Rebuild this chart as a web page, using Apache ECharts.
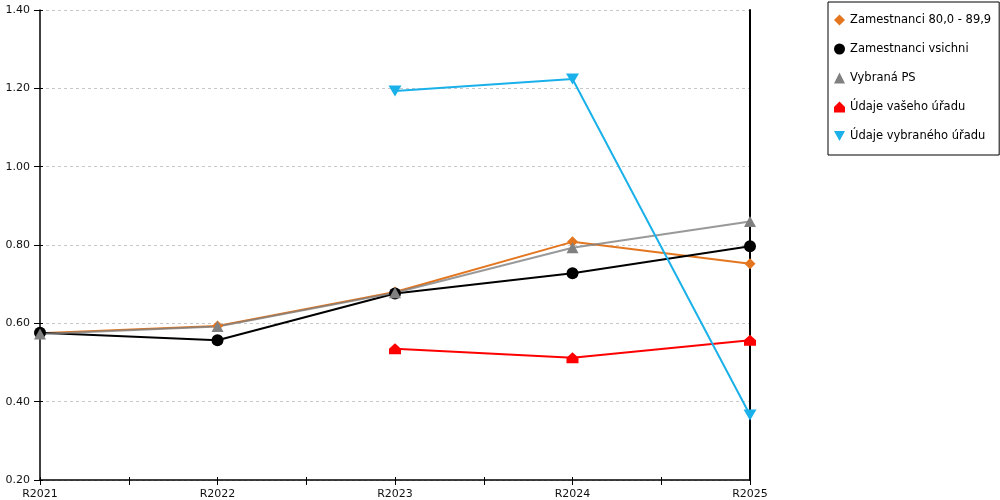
<!DOCTYPE html>
<html>
<head>
<meta charset="utf-8">
<script src="https://cdn.jsdelivr.net/npm/echarts@6/dist/echarts.min.js"></script>
<style>
  html, body { margin: 0; padding: 0; background: #fff; }
  #chart { width: 1000px; height: 500px; }
</style>
</head>
<body>
<div id="chart"></div>
<script>
// roky a hodnoty
const years = ["R2021", "R2022", "R2023", "R2024", "R2025"];
const zam8089 = [0.575, 0.593, 0.680, 0.808, 0.752];
const zamVsichni = [0.576, 0.557, 0.676, 0.728, 0.797];
const vybranaPS = [0.573, 0.592, 0.678, 0.793, 0.860];
const vasUrad = [null, null, 0.535, 0.512, 0.557];
const vybranyUrad = [null, null, 1.193, 1.224, 0.366];
const yTicks = { min: 0.2, max: 1.4, step: 0.2 };

const HOUSE = "path://M5,0 L10,5 L10,10 L0,10 L0,5 Z";
const DOWN_TRI = "path://M0,0 L10,0 L5,9 Z";
const FONT = "DejaVu Sans";

const chart = echarts.init(document.getElementById("chart"));

function line(name, data, color, symbol, size, extra) {
  return Object.assign({
    name, type: "line", data, xAxisIndex: 0, yAxisIndex: 0,
    symbol, symbolSize: size, showAllSymbol: true,
    lineStyle: { color, width: 2 },
    itemStyle: { color },
    connectNulls: false,
  }, extra || {});
}

chart.setOption({
  animation: false,
  textStyle: { fontFamily: FONT },
  grid: { left: 40, right: 250, top: 10, bottom: 20 },
  legend: {
    orient: "vertical", left: 828, top: 2,
    padding: [12, 8, 13, 6],
    itemWidth: 11, itemHeight: 11, itemGap: 17,
    borderColor: "#000", borderWidth: 1,
    textStyle: { fontFamily: FONT, fontSize: 11.5, color: "#000" },
    data: [
      { name: "Zamestnanci 80,0 - 89,9", icon: "diamond" },
      { name: "Zamestnanci vsichni", icon: "circle" },
      { name: "Vybraná PS", icon: "triangle" },
      { name: "Údaje vašeho úřadu", icon: HOUSE },
      { name: "Údaje vybraného úřadu", icon: DOWN_TRI },
    ],
  },
  xAxis: [
    {
      type: "category", data: years, boundaryGap: false,
      axisLine: { lineStyle: { color: "#000", width: 1.5 } },
      axisTick: { show: false },
      axisLabel: { fontSize: 11, color: "#111", margin: 9, fontFamily: FONT },
      splitLine: { show: false },
    },
    {
      // pomocná osa jen pro značky (i mezi roky)
      type: "value", min: 0, max: 4, interval: 0.5, position: "bottom", offset: -3,
      axisLine: { show: false },
      axisTick: { show: true, length: 8, lineStyle: { color: "#000", width: 1 } },
      axisLabel: { show: false }, splitLine: { show: false },
    },
  ],
  yAxis: [
    {
      type: "value", min: yTicks.min, max: yTicks.max, interval: yTicks.step,
      axisLine: { show: true, lineStyle: { color: "#000", width: 1.5 } },
      axisTick: { show: false },
      axisLabel: { fontSize: 11, color: "#111", margin: 10, fontFamily: FONT,
                   formatter: v => v.toFixed(2) },
      splitLine: { show: true, lineStyle: { color: "#c8c8c8", type: [3, 3], width: 1 } },
    },
    {
      type: "value", min: yTicks.min, max: yTicks.max, interval: yTicks.step,
      position: "left", offset: -3,
      axisLine: { show: false },
      axisTick: { show: true, length: 9, lineStyle: { color: "#000", width: 1 } },
      axisLabel: { show: false }, splitLine: { show: false },
    },
    {
      type: "value", min: yTicks.min, max: yTicks.max, position: "right",
      axisLine: { show: true, lineStyle: { color: "#000", width: 2 } },
      axisTick: { show: false }, axisLabel: { show: false }, splitLine: { show: false },
    },
  ],
  series: [
    line("Zamestnanci 80,0 - 89,9", zam8089, "#e3761f", "diamond", 11),
    line("Zamestnanci vsichni", zamVsichni, "#000000", "circle", 12),
    line("Vybraná PS", vybranaPS, "#808080", "triangle", [12, 11],
         { lineStyle: { color: "#808080", width: 2, opacity: 0.8 } }),
    line("Údaje vašeho úřadu", vasUrad, "#ff0000", HOUSE, [12, 11]),
    line("Údaje vybraného úřadu", vybranyUrad, "#1ab1ea", DOWN_TRI, [13, 11]),
  ],
});
</script>
</body>
</html>
